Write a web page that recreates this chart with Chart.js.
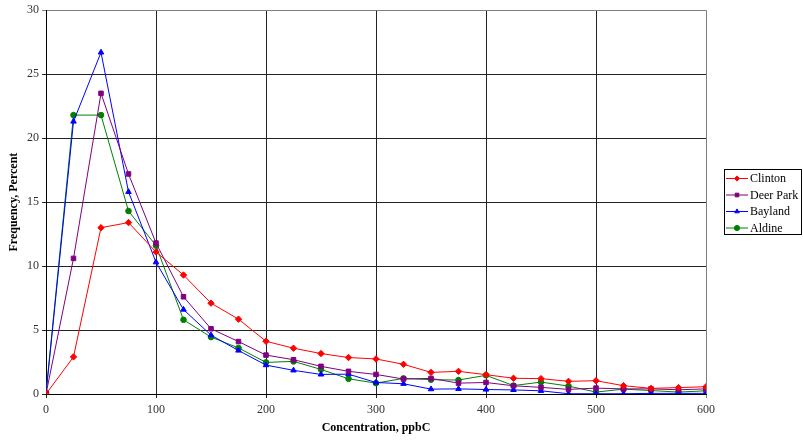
<!DOCTYPE html>
<html>
<head>
<meta charset="utf-8">
<script src="https://cdn.jsdelivr.net/npm/chart.js@4.4.1/dist/chart.umd.min.js"></script>
<style>
  html, body { margin: 0; padding: 0; background: #fff; }
  #wrap { width: 803px; height: 443px; }
</style>
</head>
<body>
<div id="wrap"><canvas id="myChart" width="803" height="443"></canvas></div>
<script>
const concentration = [ 0, 25, 50, 75, 100, 125, 150, 175, 200, 225, 250, 275, 300,
    325, 350, 375, 400, 425, 450, 475, 500, 525, 550, 575, 600 ];

const clinton = [ 0, 2.9, 13.0, 13.4, 11.1, 9.3, 7.1, 5.85, 4.12, 3.58, 3.16, 2.85, 2.74,
    2.32, 1.69, 1.77, 1.51, 1.23, 1.2, 0.99, 1.04, 0.65, 0.44, 0.5, 0.57 ];
const deerPark = [ 0, 10.6, 23.5, 17.2, 11.8, 7.6, 5.1, 4.1, 3.04, 2.68, 2.16, 1.77, 1.53,
    1.17, 1.22, 0.85, 0.9, 0.64, 0.52, 0.36, 0.46, 0.4, 0.4, 0.33, 0.4 ];
const bayland = [ 0, 21.3, 26.7, 15.8, 10.3, 6.6, 4.6, 3.4, 2.26, 1.85, 1.53, 1.55, 0.9,
    0.8, 0.38, 0.4, 0.35, 0.32, 0.25, 0.02, 0.02, 0.02, 0.05, 0.05, 0.05 ];
const aldine = [ 0.1, 21.8, 21.8, 14.3, 11.6, 5.8, 4.45, 3.6, 2.47, 2.55, 1.92, 1.19, 0.85,
    1.22, 1.12, 1.09, 1.46, 0.66, 0.93, 0.62, 0.15, 0.38, 0.27, 0.15, 0.25 ];

const seriesNames = [ 'Clinton', 'Deer Park', 'Bayland', 'Aldine' ];
const seriesColors = [ '#FF0000', '#800080', '#0000FF', '#008000' ];
const seriesMarkers = [ 'rectRot', 'rect', 'triangle', 'circle' ];
const seriesValues = [ clinton, deerPark, bayland, aldine ];

const serif = '"Liberation Serif", "DejaVu Serif", serif';

// legend drawn by hand so it can have the boxed line+marker look
const boxLegend = {
    id: 'boxLegend',
    afterDraw( chart )
    {
        const c = chart.ctx;
        const x = 724, y = 169, w = 77, h = 65;
        c.save();
        c.strokeStyle = '#000';
        c.lineWidth = 1;
        c.strokeRect( x + 0.5, y + 0.5, w, h );
        c.font = '12px ' + serif;
        c.textBaseline = 'middle';
        chart.data.datasets.forEach( ( ds, i ) =>
        {
            const ly = 178.5 + i * 16.5;
            c.strokeStyle = ds.borderColor;
            c.lineWidth = 1;
            c.beginPath();
            c.moveTo( x + 2, ly );
            c.lineTo( x + 24, ly );
            c.stroke();
            c.fillStyle = ds.backgroundColor;
            Chart.helpers.drawPoint( c, { pointStyle: ds.pointStyle, radius: 2.6, borderWidth: 1 }, x + 13, ly );
            c.fillStyle = '#000';
            c.fillText( ds.label, x + 26, ly + 0.5 );
        } );
        c.restore();
    }
};

const datasets = seriesNames.map( ( name, i ) => ( {
    label: name,
    data: concentration.map( ( cx, j ) => ( { x: cx, y: seriesValues[ i ][ j ] } ) ),
    borderColor: seriesColors[ i ],
    backgroundColor: seriesColors[ i ],
    pointStyle: seriesMarkers[ i ],
    pointRadius: seriesMarkers[ i ] === 'circle' ? 2.8 : 3.2,
    pointBorderWidth: 1,
    borderWidth: 1,
    tension: 0
} ) );

new Chart( document.getElementById( 'myChart' ), {
    type: 'line',
    data: { datasets: datasets },
    options: {
        responsive: false,
        animation: false,
        devicePixelRatio: 1,
        layout: { padding: { top: 10, right: 97, left: 0, bottom: 0 } },
        plugins: {
            legend: { display: false },
            tooltip: { enabled: false }
        },
        scales: {
            x: {
                type: 'linear',
                min: 0,
                max: 600,
                afterFit( scale ) { scale.height = 49; },
                ticks: {
                    stepSize: 100,
                    color: '#333',
                    font: { family: serif, size: 12 },
                    maxRotation: 0,
                    padding: 5
                },
                grid: {
                    color: ( ctx ) => ctx.tick && ctx.tick.value === 600 ? '#808080' : '#222',
                    lineWidth: 1,
                    tickLength: 4,
                    drawTicks: true
                },
                border: { color: '#000', width: 1 },
                title: {
                    display: true,
                    text: 'Concentration, ppbC',
                    color: '#000',
                    font: { family: serif, size: 12, weight: 'bold' },
                    padding: { top: 4, bottom: 8 }
                }
            },
            y: {
                min: 0,
                max: 30,
                afterFit( scale ) { scale.width = 46; },
                ticks: {
                    stepSize: 5,
                    color: '#333',
                    font: { family: serif, size: 12 },
                    padding: 3
                },
                grid: {
                    color: ( ctx ) => ctx.tick && ctx.tick.value === 30 ? '#808080' : '#222',
                    lineWidth: 1,
                    tickLength: 4
                },
                border: { color: '#000', width: 1 },
                title: {
                    display: true,
                    text: 'Frequency, Percent',
                    color: '#000',
                    font: { family: serif, size: 12, weight: 'bold' },
                    padding: { top: 7, bottom: 4 }
                }
            }
        }
    },
    plugins: [ boxLegend ]
} );
</script>
</body>
</html>
